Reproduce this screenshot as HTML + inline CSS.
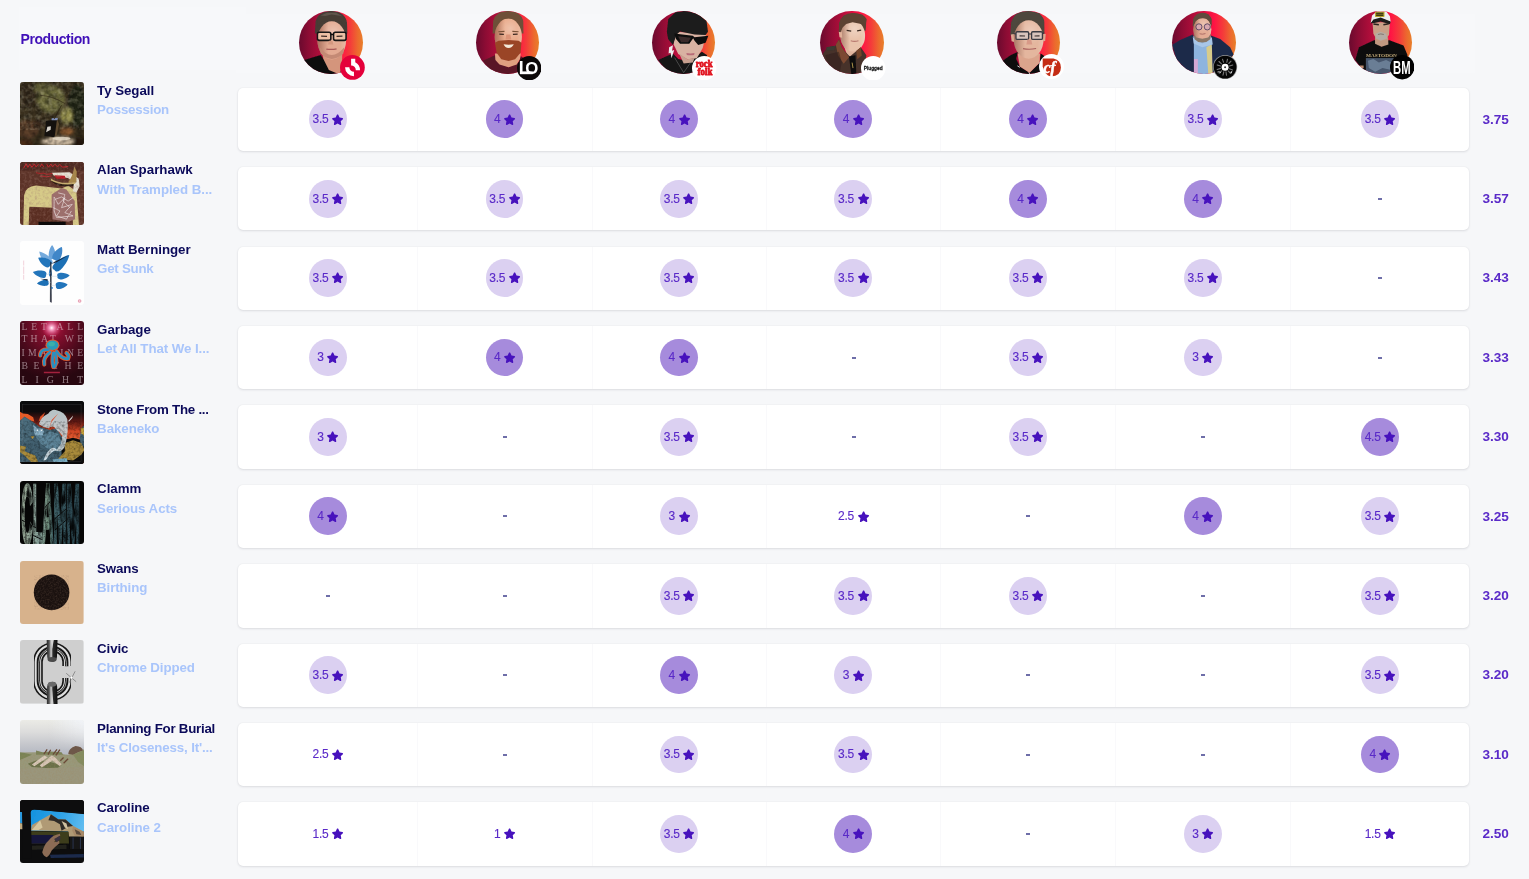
<!DOCTYPE html>
<html lang="en">
<head>
<meta charset="utf-8">
<title>Production ratings</title>
<style>
html,body{margin:0;padding:0}
body{width:1529px;height:879px;overflow:hidden;position:relative;background:#f6f7f9;font-family:"Liberation Sans",sans-serif;color:#0b0a5a}

.band{position:absolute;background:#f7f8fa}
.head{position:absolute;left:20.5px;top:29.5px;font-size:14px;line-height:19px;font-weight:700;color:#4010b8;letter-spacing:-0.45px}
.card{position:absolute;left:238.3px;width:1231px;height:63.4px;background:#fff;border-radius:5px;box-shadow:0 1px 2.5px rgba(25,30,45,.11),0 0 1.5px rgba(25,30,45,.07)}
.sep{position:absolute;top:0;bottom:0;width:1px;background:#f9f9fb}
.thumb{position:absolute;left:20.3px;width:63.6px;height:63.6px;border-radius:3px;overflow:hidden}
.thumb svg{display:block;width:100%;height:100%}
.artist{position:absolute;left:97.1px;font-size:13.3px;line-height:19px;font-weight:700;color:#0b0a5a;white-space:nowrap;letter-spacing:-0.05px}
.album{position:absolute;left:97.1px;font-size:13.3px;line-height:19px;font-weight:700;color:#a9c5fb;white-space:nowrap;letter-spacing:-0.2px}
.rt{position:absolute;width:37.8px;height:37.8px;border-radius:50%;display:flex;align-items:center;justify-content:center;font-size:12px;line-height:12px;color:#5a2ac8;white-space:nowrap;letter-spacing:-0.25px;-webkit-text-stroke:0.12px #5a2ac8}
.rt.hi{background:#a68bdc}
.rt.md{background:#dbd0f1}
.rt .st{width:13.2px;height:13.2px;margin-left:2.6px;margin-right:-1.2px;fill:#4712bd;display:block;position:relative;top:-0.1px}
.rt span{position:relative;top:-0.15px}
.dash{position:absolute;width:3.8px;height:1.6px;background:#4a4a94;opacity:.8}
.score{position:absolute;left:1469.6px;width:52px;text-align:center;font-size:13.6px;line-height:19px;font-weight:700;color:#5a2ac8;letter-spacing:-0.1px}
.av{position:absolute;width:63.6px;height:63.6px;border-radius:50%;overflow:hidden;background:linear-gradient(90deg,#6a0a2e 0%,#8c0c34 15%,#b80e3c 38%,#e81040 55%,#ff1444 66%,#f43c3a 80%,#ec6a2e 92%,#e8802a 100%)}
.av svg{display:block;width:100%;height:100%}
.bd{position:absolute;width:23px;height:23px}
.bd svg{display:block;width:100%;height:100%}
</style>
</head>
<body>
<div class="band" style="left:18.5px;top:7px;width:227.5px;height:62.5px"></div>
<div class="band" style="left:236px;top:13.5px;width:1239px;height:59px"></div>
<header>
<div class="head">Production</div>
<div class="av" style="left:299.4px;top:10.5px"><svg viewBox="0 0 64 64" preserveAspectRatio="none"><defs><filter id="a1b"><feGaussianBlur stdDeviation="5"/></filter><linearGradient id="a1s" x1="294" y1="0" x2="610" y2="0" gradientUnits="userSpaceOnUse"><stop offset="0" stop-color="#5a2418" stop-opacity=".42"/><stop offset=".38" stop-color="#5a2418" stop-opacity="0"/><stop offset=".8" stop-color="#fff" stop-opacity="0"/><stop offset="1" stop-color="#fff" stop-opacity=".18"/></linearGradient><radialGradient id="a1h" cx="475" cy="300" r="142" gradientUnits="userSpaceOnUse"><stop offset="0" stop-color="#fff" stop-opacity=".28"/><stop offset="1" stop-color="#fff" stop-opacity="0"/></radialGradient></defs><g transform="scale(.0913) translate(-91,-71)" filter="url(#a1b)"><path d="M140 615L330 555L360 600L540 620L560 800L100 800Z" fill="#0c0c10"/><path d="M345 520L570 520L560 700L540 770L420 720L360 600Z" fill="#d4957c"/><path d="M266 320L274 185Q300 74 450 70Q602 78 620 200L624 320Z" fill="#463c36"/><ellipse cx="452" cy="395" rx="158" ry="210" fill="#e3aa92"/><ellipse cx="452" cy="395" rx="158" ry="210" fill="url(#a1s)"/><ellipse cx="452" cy="395" rx="158" ry="210" fill="url(#a1h)"/><path d="M320 470Q450 640 590 470L580 540Q450 660 330 540Z" fill="#c48a74"/><path d="M300 250L330 195L400 172L500 170L570 195L602 250L612 170L540 90L450 72L350 90L290 170Z" fill="#463c36"/><path d="M330 120L400 90L500 90L570 130L520 120L450 110L380 125Z" fill="#5e544c"/><rect x="294" y="305" width="148" height="90" rx="20" fill="#ecc0a4" stroke="#121212" stroke-width="17"/><rect x="472" y="305" width="138" height="90" rx="20" fill="#ecc0a4" stroke="#121212" stroke-width="17"/><path d="M335 348L400 350M505 350L570 347" stroke="#3a2a26" stroke-width="13"/><path d="M440 330L472 330" stroke="#0e0e0e" stroke-width="16"/><path d="M392 490Q450 500 505 488" stroke="#a85a58" stroke-width="14" fill="none"/><path d="M420 400L410 440L470 440L460 400" fill="#d49880"/></g></svg>
</div>
<div class="bd" style="left:340.15px;top:55.35px;width:24.8px;height:24.8px"><svg viewBox="0 0 24.8 24.8"><circle cx="12.4" cy="12.4" r="12.4" fill="#e4003a"/><path d="M11.1 3.7H15.25V7.25A8.92 8.92 0 0 1 20 15.15H15.8A4.73 4.73 0 0 0 11.1 10.4Z" fill="#fff"/><path d="M5.050 12.25H9.35A4.600 4.600 0 0 0 13.950 16.850V21.150A8.900 8.900 0 0 1 5.050 12.250Z" fill="#fff"/></svg>
</div>
<div class="av" style="left:475.8px;top:10.5px"><svg viewBox="0 0 64 64" preserveAspectRatio="none"><defs><filter id="a2b"><feGaussianBlur stdDeviation="5"/></filter><linearGradient id="a2s" x1="297" y1="0" x2="597" y2="0" gradientUnits="userSpaceOnUse"><stop offset="0" stop-color="#5a2418" stop-opacity=".42"/><stop offset=".38" stop-color="#5a2418" stop-opacity="0"/><stop offset=".8" stop-color="#fff" stop-opacity="0"/><stop offset="1" stop-color="#fff" stop-opacity=".18"/></linearGradient><radialGradient id="a2h" cx="469" cy="265" r="135" gradientUnits="userSpaceOnUse"><stop offset="0" stop-color="#fff" stop-opacity=".28"/><stop offset="1" stop-color="#fff" stop-opacity="0"/></radialGradient></defs><g transform="scale(.0913) translate(-91,-71)" filter="url(#a2b)"><path d="M165 620L300 560L330 640L450 690L560 640L585 568L625 600L560 790L300 790Z" fill="#5a1828"/><path d="M300 540L585 540L575 600L540 660L450 690L350 660L305 610Z" fill="#e0a080"/><path d="M274 320L280 180Q310 72 450 70Q590 76 612 180L614 320Z" fill="#6e5038"/><ellipse cx="447" cy="355" rx="150" ry="200" fill="#e9aa8a"/><ellipse cx="447" cy="355" rx="150" ry="200" fill="url(#a2s)"/><ellipse cx="447" cy="355" rx="150" ry="200" fill="url(#a2h)"/><path d="M300 420L340 398L450 392L560 398L592 420L582 530L522 602L450 622L370 602L318 530Z" fill="#9a4428"/><path d="M395 438Q450 448 508 438Q490 478 450 478Q410 478 395 438Z" fill="#f4e8d8"/><path d="M300 250L320 200L370 165L450 152L540 168L585 215L600 260L606 170L540 90L450 72L350 90L290 170Z" fill="#6e5038"/><path d="M338 300L405 296M492 296L560 300" stroke="#7a5238" stroke-width="13"/><path d="M348 326L398 328M498 328L550 326" stroke="#3a2620" stroke-width="15"/><path d="M425 330L415 385L480 385L470 330" fill="#dc9478"/></g></svg>
</div>
<div class="bd" style="left:516.70px;top:55.55px;width:24.4px;height:24.4px"><svg viewBox="0 0 24.4 24.4"><circle cx="12.2" cy="12.2" r="12.2" fill="#0c0808"/><rect x="3.1" y="15.400" width="12.600" height="2.800" fill="#fff"/><text font-family="'Liberation Sans',sans-serif" font-weight="700" font-size="17.6" fill="#fff"><tspan x="1.75" y="18.2">L</tspan><tspan x="8.15" y="18.2" font-size="16.800">O</tspan></text></svg>
</div>
<div class="av" style="left:651.5px;top:10.5px"><svg viewBox="0 0 64 64" preserveAspectRatio="none"><defs><filter id="a3b"><feGaussianBlur stdDeviation="5"/></filter></defs><g transform="scale(.0913) translate(-91,-71)" filter="url(#a3b)"><path d="M160 612L320 540L380 600L480 622L590 560L640 520L700 560L560 790L300 790Z" fill="#141414"/><path d="M340 300L690 320L650 480L585 592L480 604L380 545L330 440Z" fill="#d9b2a2"/><path d="M390 540L480 604L560 590L540 640L440 650Z" fill="#c8a090"/><path d="M255 300L270 160L350 85L470 68L600 100L692 182L708 300L682 335L560 330L400 298L362 330L322 445L268 380Z" fill="#1c1c1c"/><path d="M335 318L540 345L560 360L712 345L682 422L600 447L560 400L545 372L502 432L400 432L358 382Z" fill="#0e0c0c"/><path d="M380 350L520 365L490 415L410 415Z" fill="#3a2a2a"/><path d="M470 535Q515 545 560 535L555 555Q515 565 475 555Z" fill="#b86c78"/><path d="M280 470L322 448L312 510L336 500L306 592L296 530L274 540Z" fill="#ececec"/><path d="M340 585L440 750L540 605" stroke="#8a8a8a" stroke-width="5" fill="none"/></g></svg>
</div>
<div class="bd" style="left:692.35px;top:55.65px;width:24.4px;height:24.4px"><svg viewBox="0 0 24.4 24.4"><circle cx="12.2" cy="12.2" r="12.2" fill="#fff"/><g font-family="'Liberation Serif',serif" font-weight="700" font-size="10" fill="#e0101c" stroke="#e0101c" stroke-width=".8" stroke-linejoin="round"><text x="3.7" y="11.2" textLength="16.8" lengthAdjust="spacingAndGlyphs">rock</text><text x="5.600" y="19.2" textLength="14.9" lengthAdjust="spacingAndGlyphs">folk</text></g></svg>
</div>
<div class="av" style="left:820.3px;top:10.5px"><svg viewBox="0 0 64 64" preserveAspectRatio="none"><defs><filter id="a4b"><feGaussianBlur stdDeviation="5"/></filter><linearGradient id="a4s" x1="316" y1="0" x2="588" y2="0" gradientUnits="userSpaceOnUse"><stop offset="0" stop-color="#5a2418" stop-opacity=".42"/><stop offset=".38" stop-color="#5a2418" stop-opacity="0"/><stop offset=".8" stop-color="#fff" stop-opacity="0"/><stop offset="1" stop-color="#fff" stop-opacity=".18"/></linearGradient><radialGradient id="a4h" cx="472" cy="267" r="122" gradientUnits="userSpaceOnUse"><stop offset="0" stop-color="#fff" stop-opacity=".28"/><stop offset="1" stop-color="#fff" stop-opacity="0"/></radialGradient></defs><g transform="scale(.0913) translate(-91,-71)" filter="url(#a4b)"><path d="M350 440L525 440L505 590L400 590Z" fill="#e0b49c"/><path d="M298 300L305 200Q330 95 450 93Q580 100 602 160L594 290Z" fill="#5c4232"/><ellipse cx="452" cy="345" rx="136" ry="172" fill="#e9c3ab"/><ellipse cx="452" cy="345" rx="136" ry="172" fill="url(#a4s)"/><ellipse cx="452" cy="345" rx="136" ry="172" fill="url(#a4h)"/><path d="M298 300L332 300L336 365L306 360Z" fill="#e0b098"/><path d="M316 305L340 252L380 214L450 196L560 216L590 265L604 160L560 113L450 93L350 128L302 200L298 300Z" fill="#5c4232"/><path d="M385 285L435 292M500 290L545 283" stroke="#3a2a22" stroke-width="14"/><path d="M430 400Q470 412 515 400" stroke="#b87a70" stroke-width="12" fill="none"/><path d="M120 548L170 470L262 455L300 382L332 482L420 572L480 522L540 470L602 560L560 790L300 790L150 640Z" fill="#46302a"/><path d="M265 442L300 385L332 472L412 582L352 652L290 562Z" fill="#7c4a30"/><path d="M490 512L540 470L552 562L502 602Z" fill="#74442c"/><path d="M410 572L482 560L492 790L440 790Z" fill="#0e0c0c"/><path d="M160 470L260 455L250 500L170 510Z" fill="#3a3a30"/><path d="M445 640L455 700" stroke="#b8a050" stroke-width="10"/><path d="M150 560L300 520L330 640L300 790L200 720Z" fill="#2e1e1a" opacity=".5"/></g></svg>
</div>
<div class="bd" style="left:861.35px;top:55.65px;width:24.5px;height:24.5px"><svg viewBox="0 0 24.5 24.5"><defs><filter id="b4f"><feGaussianBlur stdDeviation=".25"/></filter></defs><circle cx="12.25" cy="12.25" r="12.25" fill="#fff"/><text x="2.800" y="14" textLength="18.8" lengthAdjust="spacingAndGlyphs" font-family="'Liberation Sans',sans-serif" font-weight="700" font-size="6.2" fill="#1a1a1a" stroke="#1a1a1a" stroke-width=".3" filter="url(#b4f)">Plugged</text></svg>
</div>
<div class="av" style="left:996.5px;top:10.5px"><svg viewBox="0 0 64 64" preserveAspectRatio="none"><defs><filter id="a5b"><feGaussianBlur stdDeviation="5"/></filter><linearGradient id="a5s" x1="276" y1="0" x2="604" y2="0" gradientUnits="userSpaceOnUse"><stop offset="0" stop-color="#5a2418" stop-opacity=".42"/><stop offset=".38" stop-color="#5a2418" stop-opacity="0"/><stop offset=".8" stop-color="#fff" stop-opacity="0"/><stop offset="1" stop-color="#fff" stop-opacity=".18"/></linearGradient><radialGradient id="a5h" cx="464" cy="289" r="147" gradientUnits="userSpaceOnUse"><stop offset="0" stop-color="#fff" stop-opacity=".28"/><stop offset="1" stop-color="#fff" stop-opacity="0"/></radialGradient></defs><g transform="scale(.0913) translate(-91,-71)" filter="url(#a5b)"><path d="M150 622L240 560L322 520L302 600L342 682L450 752L560 642L572 540L622 572L600 790L300 790Z" fill="#0e0e10"/><path d="M318 540L565 540L560 642L450 752L342 682Z" fill="#dba48c"/><path d="M238 340L246 200Q280 70 430 70Q590 78 612 180L614 320Z" fill="#4e463c"/><ellipse cx="440" cy="385" rx="164" ry="212" fill="#e4b69e"/><ellipse cx="440" cy="385" rx="164" ry="212" fill="url(#a5s)"/><ellipse cx="440" cy="385" rx="164" ry="212" fill="url(#a5h)"/><path d="M244 330L276 325L280 412L252 405Z" fill="#dca890"/><path d="M600 322L628 325L622 402L598 405Z" fill="#dca890"/><path d="M280 290L300 225L340 180L430 162L530 178L575 230L596 285L610 180L560 95L430 72L300 108L250 200Z" fill="#4e463c"/><rect x="300" y="300" width="140" height="84" rx="14" fill="#d8c4bc" stroke="#3a3a42" stroke-width="15"/><rect x="472" y="300" width="120" height="84" rx="14" fill="#d8c4bc" stroke="#3a3a42" stroke-width="15"/><path d="M340 345L400 347M505 347L560 345" stroke="#3a3030" stroke-width="12"/><path d="M440 325L472 325M276 320L300 325M592 320L612 315" stroke="#3a3a42" stroke-width="12"/><path d="M378 486Q450 500 522 484" stroke="#a85e5c" stroke-width="12" fill="none"/><path d="M425 385L415 440L480 440L468 385" fill="#d89a88"/><path d="M316 676L342 692M440 750L470 785" stroke="#e8e8e8" stroke-width="10"/></g></svg>
</div>
<div class="bd" style="left:1039.20px;top:53.70px;width:25.0px;height:25.0px"><svg viewBox="0 0 25 25"><circle cx="12.5" cy="12.5" r="12.5" fill="#fff"/><path d="M3.7 4.550H14.5Q21.900 6.200 21.900 13.500Q21.900 22.400 12 22.400Q5.500 21.500 3.700 12.500Z" fill="#c42c14"/><text x="4.6" y="18.6" font-family="'Liberation Serif',serif" font-style="italic" font-weight="700" font-size="16" fill="#fff" stroke="#fff" stroke-width=".45" letter-spacing="-.4">cf</text></svg>
</div>
<div class="av" style="left:1172.4px;top:10.5px"><svg viewBox="0 0 64 64" preserveAspectRatio="none"><defs><filter id="a6b"><feGaussianBlur stdDeviation="5"/></filter><linearGradient id="a6s" x1="325" y1="0" x2="525" y2="0" gradientUnits="userSpaceOnUse"><stop offset="0" stop-color="#5a2418" stop-opacity=".42"/><stop offset=".38" stop-color="#5a2418" stop-opacity="0"/><stop offset=".8" stop-color="#fff" stop-opacity="0"/><stop offset="1" stop-color="#fff" stop-opacity=".18"/></linearGradient><radialGradient id="a6h" cx="440" cy="216" r="90" gradientUnits="userSpaceOnUse"><stop offset="0" stop-color="#fff" stop-opacity=".28"/><stop offset="1" stop-color="#fff" stop-opacity="0"/></radialGradient></defs><g transform="scale(.0913) translate(-91,-71)" filter="url(#a6b)"><path d="M318 350L532 350L545 790L328 790Z" fill="#8eb4de"/><path d="M470 470L528 438L545 770L492 780Z" fill="#d8cc8a"/><path d="M328 600L376 600L376 790L328 780Z" fill="#d4a8d4"/><path d="M95 442L180 390L322 330L332 402L332 770L250 722L140 602Z" fill="#1f2b4a"/><path d="M520 340L622 380L732 470L772 552L700 622L560 742L540 770L530 420Z" fill="#1f2b4a"/><path d="M320 360L425 430L530 360L540 440L425 470L330 430Z" fill="#a8c6e8"/><path d="M318 240L325 160Q350 92 430 90Q505 96 527 160L529 232Z" fill="#5e4c3c"/><ellipse cx="425" cy="275" rx="100" ry="130" fill="#e4ac94"/><ellipse cx="425" cy="275" rx="100" ry="130" fill="url(#a6s)"/><ellipse cx="425" cy="275" rx="100" ry="130" fill="url(#a6h)"/><path d="M328 320L360 362L425 378L490 362L522 320L512 382L470 412L425 418L380 412L340 382Z" fill="#8a7868"/><path d="M336 216L350 180L390 156L430 150L475 156L505 180L520 215L525 160L490 108L430 92L370 108L326 160Z" fill="#5e4c3c"/><circle cx="388" cy="246" r="34" fill="#d8a8b0" stroke="#4a3858" stroke-width="9"/><circle cx="480" cy="246" r="34" fill="#d8a8b0" stroke="#4a3858" stroke-width="9"/><path d="M395 322Q425 332 460 320" stroke="#a0605c" stroke-width="9" fill="none"/></g></svg>
</div>
<div class="bd" style="left:1213.45px;top:55.10px;width:24.2px;height:24.2px"><svg viewBox="0 0 24.2 24.2"><circle cx="12.1" cy="12.1" r="12.1" fill="#9a9a9a"/><circle cx="12.1" cy="12.1" r="11.400" fill="#050505"/><g stroke="#8c8c8c" stroke-width="1.1" fill="none" stroke-linecap="round" opacity=".85"><path d="M6 6.500L8.500 8.800M9.500 4.200L10.500 7.200M14.500 4.200L13.800 7.300M18 6.200L15.800 8.500M19.800 10L16.500 11M19.600 15L16.400 13.800M17.500 18.500L15.200 16M13.500 20.300L13 16.800M10 20.200L10.800 16.800M6.200 18.200L8.600 15.800M4.200 14.500L7.600 13.400M4.200 10L7.600 11"/></g><path d="M4.500 17Q6.500 16 8 18" stroke="#c8c8c8" stroke-width=".9" fill="none"/><path d="M17 17.300L19.300 15.800L18.800 18.500Z" fill="#d0d0d0"/><circle cx="12.100" cy="12.200" r="3.500" fill="#fff"/><circle cx="12.1" cy="12.2" r="1" fill="#333"/></svg>
</div>
<div class="av" style="left:1348.6px;top:10.5px"><svg viewBox="0 0 64 64" preserveAspectRatio="none"><defs><filter id="a7b"><feGaussianBlur stdDeviation="5"/></filter></defs><g transform="scale(.0913) translate(-91,-71)" filter="url(#a7b)"><path d="M160 612L200 470L372 390L450 462L530 390L692 450L737 560L560 790L300 790Z" fill="#111"/><path d="M378 360L522 360L525 440L450 466L378 432Z" fill="#c09880"/><path d="M350 195L542 195L532 332L502 382L440 398L390 378L360 322Z" fill="#c8a088"/><path d="M385 322L440 300L500 322L512 372L440 398L385 372Z" fill="#b4aca4"/><path d="M410 330Q440 318 475 330" stroke="#7a6a60" stroke-width="9" fill="none"/><path d="M360 215L420 222M470 222L530 212" stroke="#2a2220" stroke-width="16"/><path d="M330 202L345 120L400 75L500 75L542 130L550 192L440 150L360 182Z" fill="#eeeeee"/><path d="M330 207L360 165L440 144L550 186L542 217L440 186L370 202Z" fill="#1c1c1c"/><rect x="378" y="80" width="104" height="56" rx="6" fill="#b4a42c"/><path d="M390 96H470M390 116H470" stroke="#1a1a10" stroke-width="12"/><rect x="278" y="590" width="325" height="175" fill="#46566c"/><path d="M300 620L360 600L420 640L500 610L580 650L560 720L460 700L380 740L310 700Z" fill="#8aa0b8" opacity=".55"/><rect x="212" y="672" width="40" height="30" fill="#c09070"/></g><g transform="scale(.0913) translate(-91,-71)"><text x="278" y="576" font-family="'Liberation Serif',serif" font-weight="700" font-size="46" fill="#c2aa78" textLength="340" lengthAdjust="spacingAndGlyphs">MASTODON</text></g></svg>
</div>
<div class="bd" style="left:1389.65px;top:55.45px;width:24.4px;height:24.4px"><svg viewBox="0 0 24.4 24.4"><circle cx="12.2" cy="12.2" r="12.2" fill="#020202"/><text transform="translate(3.1 18.55) scale(.595 1)" font-family="'Liberation Sans',sans-serif" font-weight="700" font-size="19" fill="#fff">BM</text></svg>
</div>
</header>
<main>
<section class="row">
<div class="thumb" role="img" aria-label="Ty Segall cover" style="top:81.9px"><svg viewBox="0 0 64 64" preserveAspectRatio="none"><defs><filter id="t1b" x="-20%" y="-20%" width="140%" height="140%"><feGaussianBlur stdDeviation="22"/></filter><filter id="t1n" x="0" y="0" width="100%" height="100%"><feTurbulence type="fractalNoise" baseFrequency="0.016" numOctaves="2" seed="4"/><feColorMatrix type="matrix" values="0 0 0 0 0  0 0 0 0 0  0 0 0 0 0  1.6 0 0 0 -0.55"/></filter><filter id="t1m" x="0" y="0" width="100%" height="100%"><feTurbulence type="fractalNoise" baseFrequency="0.02" numOctaves="2" seed="11"/><feColorMatrix type="matrix" values="0 0 0 0 1  0 0 0 0 .95  0 0 0 0 .7  0 1.5 0 0 -0.6"/></filter></defs><g transform="scale(.08278) translate(-55,-48)"><rect x="40" y="30" width="810" height="810" fill="#3a301e"/><g filter="url(#t1b)"><ellipse cx="430" cy="260" rx="170" ry="170" fill="#6c6a3a"/><ellipse cx="330" cy="120" rx="130" ry="60" fill="#5e5c34"/><ellipse cx="750" cy="340" rx="110" ry="260" fill="#232818"/><ellipse cx="140" cy="210" rx="100" ry="140" fill="#36291a"/><ellipse cx="620" cy="460" rx="80" ry="100" fill="#8f8a48"/><ellipse cx="150" cy="620" rx="140" ry="110" fill="#5d3f2a"/><ellipse cx="520" cy="770" rx="210" ry="55" fill="#d2bfa6"/><ellipse cx="620" cy="650" rx="90" ry="50" fill="#8a5a30"/><ellipse cx="775" cy="780" rx="70" ry="60" fill="#22160e"/><ellipse cx="120" cy="790" rx="90" ry="45" fill="#4a2a18"/><ellipse cx="280" cy="560" rx="70" ry="60" fill="#3b2a1c"/></g><rect x="40" y="30" width="810" height="810" filter="url(#t1n)" fill="#000" opacity=".55"/><rect x="40" y="30" width="810" height="600" filter="url(#t1m)" opacity=".35"/><path d="M372 522L505 497L502 640L470 720L352 700Z" fill="#14110e"/><path d="M440 490L515 486L512 512L438 514Z" fill="#7f90b8"/><path d="M388 592L430 585L428 628L372 660Z" fill="#d8d4cc"/><path d="M505 500L530 560L500 700L478 700Z" fill="#5e4a30"/><path d="M560 330L470 500" stroke="#2a2012" stroke-width="9"/><path d="M300 210Q460 220 600 310" stroke="#2a2012" stroke-width="7" fill="none"/><ellipse cx="560" cy="735" rx="110" ry="22" fill="#e6dccb" opacity=".8"/></g></svg>
</div>
<div class="artist" style="top:80.5px;letter-spacing:-0.05px">Ty Segall</div>
<div class="album" style="top:99.7px;letter-spacing:-0.20px">Possession</div>
<div class="card" style="top:87.7px"><i class="sep" style="left:178.5px"></i><i class="sep" style="left:353.7px"></i><i class="sep" style="left:527.4px"></i><i class="sep" style="left:702.2px"></i><i class="sep" style="left:876.4px"></i><i class="sep" style="left:1052.1px"></i></div>
<div class="rt md" style="left:308.9px;top:100.4px"><span>3.5</span><svg class="st" viewBox="0 0 24 24"><path d="M12 2.6c.5 0 1 .3 1.200 .8l2.300 4.900 5.300 .7c1.100 .2 1.600 1.500 .8 2.300l-3.900 3.700 1 5.300c.2 1.100-1 2-2 1.400L12 19.100l-4.700 2.600c-1 .6-2.200-.3-2-1.400l1-5.300-3.900-3.700c-.8-.8-.3-2.100 .8-2.300l5.300-.7 2.300-4.900c.2-.5 .700-.8 1.200-.8z"/></svg></div>
<div class="rt hi" style="left:485.7px;top:100.4px"><span>4</span><svg class="st" viewBox="0 0 24 24"><path d="M12 2.6c.5 0 1 .3 1.200 .8l2.300 4.900 5.300 .7c1.100 .2 1.600 1.500 .8 2.300l-3.900 3.700 1 5.300c.2 1.100-1 2-2 1.400L12 19.100l-4.700 2.600c-1 .6-2.200-.3-2-1.400l1-5.300-3.900-3.700c-.8-.8-.3-2.100 .8-2.300l5.300-.7 2.300-4.900c.2-.5 .700-.8 1.200-.8z"/></svg></div>
<div class="rt hi" style="left:660.2px;top:100.4px"><span>4</span><svg class="st" viewBox="0 0 24 24"><path d="M12 2.6c.5 0 1 .3 1.200 .8l2.300 4.900 5.300 .7c1.100 .2 1.600 1.500 .8 2.300l-3.900 3.700 1 5.300c.2 1.100-1 2-2 1.400L12 19.100l-4.700 2.600c-1 .6-2.200-.3-2-1.400l1-5.300-3.900-3.700c-.8-.8-.3-2.100 .8-2.300l5.300-.7 2.300-4.900c.2-.5 .700-.8 1.200-.8z"/></svg></div>
<div class="rt hi" style="left:834.4px;top:100.4px"><span>4</span><svg class="st" viewBox="0 0 24 24"><path d="M12 2.6c.5 0 1 .3 1.200 .8l2.300 4.900 5.300 .7c1.100 .2 1.600 1.500 .8 2.300l-3.900 3.700 1 5.300c.2 1.100-1 2-2 1.400L12 19.100l-4.700 2.600c-1 .6-2.200-.3-2-1.400l1-5.300-3.900-3.700c-.8-.8-.3-2.100 .8-2.300l5.300-.7 2.300-4.900c.2-.5 .700-.8 1.200-.8z"/></svg></div>
<div class="rt hi" style="left:1008.9px;top:100.4px"><span>4</span><svg class="st" viewBox="0 0 24 24"><path d="M12 2.6c.5 0 1 .3 1.200 .8l2.300 4.900 5.300 .7c1.100 .2 1.600 1.500 .8 2.300l-3.900 3.700 1 5.300c.2 1.100-1 2-2 1.400L12 19.100l-4.700 2.600c-1 .6-2.200-.3-2-1.400l1-5.300-3.900-3.700c-.8-.8-.3-2.100 .8-2.300l5.300-.7 2.300-4.900c.2-.5 .700-.8 1.200-.8z"/></svg></div>
<div class="rt md" style="left:1183.9px;top:100.4px"><span>3.5</span><svg class="st" viewBox="0 0 24 24"><path d="M12 2.6c.5 0 1 .3 1.200 .8l2.300 4.900 5.300 .7c1.100 .2 1.600 1.500 .8 2.300l-3.900 3.700 1 5.300c.2 1.100-1 2-2 1.400L12 19.100l-4.700 2.600c-1 .6-2.200-.3-2-1.400l1-5.300-3.900-3.700c-.8-.8-.3-2.100 .8-2.300l5.300-.7 2.300-4.900c.2-.5 .700-.8 1.200-.8z"/></svg></div>
<div class="rt md" style="left:1361.0px;top:100.4px"><span>3.5</span><svg class="st" viewBox="0 0 24 24"><path d="M12 2.6c.5 0 1 .3 1.200 .8l2.300 4.900 5.300 .7c1.100 .2 1.600 1.500 .8 2.300l-3.900 3.700 1 5.300c.2 1.100-1 2-2 1.400L12 19.100l-4.700 2.600c-1 .6-2.200-.3-2-1.400l1-5.300-3.900-3.700c-.8-.8-.3-2.100 .8-2.300l5.300-.7 2.300-4.900c.2-.5 .700-.8 1.200-.8z"/></svg></div>
<div class="score" style="top:109.5px">3.75</div>
</section>
<section class="row">
<div class="thumb" role="img" aria-label="Alan Sparhawk cover" style="top:161.7px"><svg viewBox="0 0 64 64" preserveAspectRatio="none"><defs><filter id="t2b"><feGaussianBlur stdDeviation="5"/></filter><filter id="t2n" x="0" y="0" width="100%" height="100%"><feTurbulence type="fractalNoise" baseFrequency="0.03" numOctaves="2" seed="8"/><feColorMatrix type="matrix" values="0 0 0 0 .36  0 0 0 0 .2  0 0 0 0 .16  1.7 0 0 0 -0.72"/></filter></defs><g transform="scale(.08278) translate(-55,-45)"><rect x="40" y="30" width="810" height="810" fill="#5c3328"/><rect x="40" y="30" width="810" height="120" fill="#4e2a22"/><g filter="url(#t2b)"><path d="M95 815L105 450Q120 340 250 330L560 368L640 330L740 400L772 815L700 815L690 620L640 600L450 600L170 590L160 815Z" fill="#d6ca88"/><path d="M440 440L560 360L620 380L720 520L725 740L640 770L440 740Z" fill="#9c6e6c"/><path d="M470 470L520 560L600 480L560 600L690 560L600 660L700 700L500 720L470 640ZM480 500L560 470L640 520L700 480M460 600L540 640L500 700L620 740L680 640M520 420L600 440L580 520L660 600" fill="none" stroke="#efe6e6" stroke-width="11" opacity=".75"/><path d="M170 600L450 605L450 815L170 815Z" fill="#5a2f24"/><path d="M420 250Q520 330 650 310L760 290L770 330Q600 350 520 330Q440 300 420 250Z" fill="#2c1c12"/><path d="M440 175L660 170L770 250L780 340L740 420L700 400L710 300L640 240L470 215Z" fill="#e6e0d2"/><path d="M470 205L600 212L610 250L500 250Z" fill="#b81820"/><path d="M715 100L745 160L740 290Q690 320 640 290Q700 220 715 100Z" fill="#a88848"/><path d="M430 245Q540 320 720 290L730 310Q560 340 430 270Z" fill="#c8b070"/></g><path d="M100 120L130 65L150 110L175 70L200 108L230 68L250 105L280 70M300 105L320 70L345 105M380 70L400 108L430 70L450 105L480 72L510 105L540 75L570 108L640 100" stroke="#c8202a" stroke-width="12" fill="none" stroke-linejoin="round"/><path d="M250 175L300 185L340 180L380 195L450 185M300 215L380 225L440 215" stroke="#c8202a" stroke-width="9" fill="none"/><rect x="40" y="30" width="810" height="810" filter="url(#t2n)" opacity=".5"/><rect x="280" y="772" width="330" height="50" fill="#0c0a0a"/></g></svg>
</div>
<div class="artist" style="top:160.3px;letter-spacing:0.02px">Alan Sparhawk</div>
<div class="album" style="top:179.5px;letter-spacing:-0.04px">With Trampled B...</div>
<div class="card" style="top:167.1px"><i class="sep" style="left:178.5px"></i><i class="sep" style="left:353.7px"></i><i class="sep" style="left:527.4px"></i><i class="sep" style="left:702.2px"></i><i class="sep" style="left:876.4px"></i><i class="sep" style="left:1052.1px"></i></div>
<div class="rt md" style="left:308.9px;top:179.8px"><span>3.5</span><svg class="st" viewBox="0 0 24 24"><path d="M12 2.6c.5 0 1 .3 1.200 .8l2.300 4.900 5.300 .7c1.100 .2 1.600 1.500 .8 2.300l-3.900 3.700 1 5.300c.2 1.100-1 2-2 1.400L12 19.100l-4.700 2.600c-1 .6-2.200-.3-2-1.400l1-5.300-3.900-3.700c-.8-.8-.3-2.100 .8-2.300l5.300-.7 2.300-4.900c.2-.5 .700-.8 1.200-.8z"/></svg></div>
<div class="rt md" style="left:485.7px;top:179.8px"><span>3.5</span><svg class="st" viewBox="0 0 24 24"><path d="M12 2.6c.5 0 1 .3 1.200 .8l2.300 4.900 5.300 .7c1.100 .2 1.600 1.500 .8 2.300l-3.900 3.700 1 5.300c.2 1.100-1 2-2 1.400L12 19.100l-4.700 2.600c-1 .6-2.200-.3-2-1.400l1-5.300-3.900-3.700c-.8-.8-.3-2.100 .8-2.300l5.300-.7 2.300-4.900c.2-.5 .700-.8 1.200-.8z"/></svg></div>
<div class="rt md" style="left:660.2px;top:179.8px"><span>3.5</span><svg class="st" viewBox="0 0 24 24"><path d="M12 2.6c.5 0 1 .3 1.200 .8l2.300 4.900 5.300 .7c1.100 .2 1.600 1.500 .8 2.300l-3.900 3.700 1 5.300c.2 1.100-1 2-2 1.400L12 19.100l-4.700 2.600c-1 .6-2.200-.3-2-1.400l1-5.300-3.900-3.700c-.8-.8-.3-2.100 .8-2.300l5.300-.7 2.300-4.900c.2-.5 .700-.8 1.200-.8z"/></svg></div>
<div class="rt md" style="left:834.4px;top:179.8px"><span>3.5</span><svg class="st" viewBox="0 0 24 24"><path d="M12 2.6c.5 0 1 .3 1.200 .8l2.300 4.900 5.300 .7c1.100 .2 1.600 1.500 .8 2.300l-3.900 3.700 1 5.300c.2 1.100-1 2-2 1.400L12 19.100l-4.700 2.600c-1 .6-2.200-.3-2-1.400l1-5.300-3.900-3.700c-.8-.8-.3-2.100 .8-2.300l5.300-.7 2.300-4.900c.2-.5 .700-.8 1.200-.8z"/></svg></div>
<div class="rt hi" style="left:1008.9px;top:179.8px"><span>4</span><svg class="st" viewBox="0 0 24 24"><path d="M12 2.6c.5 0 1 .3 1.200 .8l2.300 4.900 5.300 .7c1.100 .2 1.600 1.500 .8 2.300l-3.900 3.700 1 5.300c.2 1.100-1 2-2 1.400L12 19.100l-4.700 2.600c-1 .6-2.200-.3-2-1.400l1-5.300-3.900-3.700c-.8-.8-.3-2.100 .8-2.300l5.300-.7 2.300-4.900c.2-.5 .700-.8 1.200-.8z"/></svg></div>
<div class="rt hi" style="left:1183.9px;top:179.8px"><span>4</span><svg class="st" viewBox="0 0 24 24"><path d="M12 2.6c.5 0 1 .3 1.200 .8l2.300 4.900 5.300 .7c1.100 .2 1.600 1.500 .8 2.300l-3.900 3.700 1 5.300c.2 1.100-1 2-2 1.400L12 19.100l-4.700 2.600c-1 .6-2.200-.3-2-1.400l1-5.300-3.900-3.700c-.8-.8-.3-2.100 .8-2.300l5.300-.7 2.300-4.900c.2-.5 .700-.8 1.200-.8z"/></svg></div>
<div class="dash" style="left:1378px;top:198px"></div>
<div class="score" style="top:188.9px">3.57</div>
</section>
<section class="row">
<div class="thumb" role="img" aria-label="Matt Berninger cover" style="top:241.4px"><svg viewBox="0 0 64 64" preserveAspectRatio="none"><defs><filter id="t3b"><feGaussianBlur stdDeviation="3.5"/></filter></defs><g transform="scale(.08278) translate(-55,-42)"><rect x="40" y="30" width="810" height="810" fill="#fefefe"/><g filter="url(#t3b)"><path d="M445 262C512 282 488 140 445 92C402 140 378 282 445 262Z" fill="#6aa3da"/><path d="M478 272C539 330 585 184 564 116C495 135 397 252 478 272Z" fill="#3f86c8"/><path d="M432 325C505 293 365 181 290 170C295 246 393 395 432 325Z" fill="#74aadc"/><path d="M425 335C484 276 344 227 276 246C292 315 401 415 425 335Z" fill="#2474bb"/><path d="M472 392C511 475 641 300 654 211C565 223 389 352 472 392Z" fill="#1f6fb5"/><path d="M372 458C407 394 266 388 211 420C246 474 375 531 372 458Z" fill="#2474bb"/><path d="M510 472C497 538 621 504 659 460C614 423 487 409 510 472Z" fill="#2474bb"/><path d="M402 547C414 485 298 517 261 558C303 593 424 606 402 547Z" fill="#1f6fb5"/><path d="M492 588C483 657 600 617 634 570C589 533 466 523 492 588Z" fill="#2474bb"/><path d="M426 472C456 483 442 396 422 368C404 398 397 486 426 472Z" fill="#3f86c8"/><path d="M433 300L436 788L424 780L427 300Z" fill="#1a2230" stroke="#1a2230" stroke-width="7"/><path d="M436 322L480 292L648 214L500 300Z" fill="#15263a"/><path d="M300 500L392 508L388 524Z" fill="#15263a"/><path d="M430 430L372 458M432 470L510 472M430 545L402 547M432 580L492 588" stroke="#b8c8d8" stroke-width="5"/><circle cx="443" cy="612" r="12" fill="#1f6fb5"/></g><path d="M100 280L100 520" stroke="#eab0c0" stroke-width="7" stroke-dasharray="60 12 90 10"/><circle cx="780" cy="772" r="22" fill="#e8a0b4"/><circle cx="780" cy="772" r="9" fill="#f6dce4"/></g></svg></div>
<div class="artist" style="top:240.0px;letter-spacing:-0.02px">Matt Berninger</div>
<div class="album" style="top:259.2px;letter-spacing:-0.26px">Get Sunk</div>
<div class="card" style="top:246.5px"><i class="sep" style="left:178.5px"></i><i class="sep" style="left:353.7px"></i><i class="sep" style="left:527.4px"></i><i class="sep" style="left:702.2px"></i><i class="sep" style="left:876.4px"></i><i class="sep" style="left:1052.1px"></i></div>
<div class="rt md" style="left:308.9px;top:259.2px"><span>3.5</span><svg class="st" viewBox="0 0 24 24"><path d="M12 2.6c.5 0 1 .3 1.200 .8l2.300 4.900 5.300 .7c1.100 .2 1.600 1.500 .8 2.300l-3.900 3.700 1 5.300c.2 1.100-1 2-2 1.400L12 19.100l-4.700 2.600c-1 .6-2.200-.3-2-1.400l1-5.300-3.900-3.700c-.8-.8-.3-2.100 .8-2.300l5.300-.7 2.300-4.900c.2-.5 .700-.8 1.200-.8z"/></svg></div>
<div class="rt md" style="left:485.7px;top:259.2px"><span>3.5</span><svg class="st" viewBox="0 0 24 24"><path d="M12 2.6c.5 0 1 .3 1.200 .8l2.300 4.900 5.300 .7c1.100 .2 1.600 1.500 .8 2.300l-3.900 3.700 1 5.300c.2 1.100-1 2-2 1.400L12 19.100l-4.700 2.600c-1 .6-2.200-.3-2-1.400l1-5.300-3.900-3.700c-.8-.8-.3-2.100 .8-2.300l5.300-.7 2.300-4.900c.2-.5 .700-.8 1.200-.8z"/></svg></div>
<div class="rt md" style="left:660.2px;top:259.2px"><span>3.5</span><svg class="st" viewBox="0 0 24 24"><path d="M12 2.6c.5 0 1 .3 1.200 .8l2.300 4.900 5.300 .7c1.100 .2 1.600 1.500 .8 2.300l-3.900 3.700 1 5.300c.2 1.100-1 2-2 1.400L12 19.100l-4.700 2.600c-1 .6-2.200-.3-2-1.400l1-5.300-3.900-3.700c-.8-.8-.3-2.100 .8-2.300l5.300-.7 2.300-4.900c.2-.5 .700-.8 1.200-.8z"/></svg></div>
<div class="rt md" style="left:834.4px;top:259.2px"><span>3.5</span><svg class="st" viewBox="0 0 24 24"><path d="M12 2.6c.5 0 1 .3 1.200 .8l2.300 4.900 5.300 .7c1.100 .2 1.600 1.500 .8 2.300l-3.900 3.700 1 5.300c.2 1.100-1 2-2 1.400L12 19.100l-4.700 2.600c-1 .6-2.200-.3-2-1.400l1-5.300-3.900-3.700c-.8-.8-.3-2.100 .8-2.300l5.300-.7 2.300-4.900c.2-.5 .700-.8 1.200-.8z"/></svg></div>
<div class="rt md" style="left:1008.9px;top:259.2px"><span>3.5</span><svg class="st" viewBox="0 0 24 24"><path d="M12 2.6c.5 0 1 .3 1.200 .8l2.300 4.900 5.300 .7c1.100 .2 1.600 1.500 .8 2.300l-3.900 3.700 1 5.300c.2 1.100-1 2-2 1.400L12 19.100l-4.700 2.600c-1 .6-2.200-.3-2-1.400l1-5.300-3.900-3.700c-.8-.8-.3-2.100 .8-2.300l5.300-.7 2.300-4.900c.2-.5 .700-.8 1.200-.8z"/></svg></div>
<div class="rt md" style="left:1183.9px;top:259.2px"><span>3.5</span><svg class="st" viewBox="0 0 24 24"><path d="M12 2.6c.5 0 1 .3 1.200 .8l2.300 4.900 5.300 .7c1.100 .2 1.600 1.500 .8 2.300l-3.900 3.700 1 5.300c.2 1.100-1 2-2 1.400L12 19.100l-4.700 2.600c-1 .6-2.200-.3-2-1.400l1-5.300-3.900-3.700c-.8-.8-.3-2.100 .8-2.300l5.300-.7 2.300-4.900c.2-.5 .700-.8 1.200-.8z"/></svg></div>
<div class="dash" style="left:1378px;top:277px"></div>
<div class="score" style="top:268.3px">3.43</div>
</section>
<section class="row">
<div class="thumb" role="img" aria-label="Garbage cover" style="top:321.2px"><svg viewBox="0 0 64 64" preserveAspectRatio="none"><defs><radialGradient id="t4g" cx="440" cy="140" r="620" gradientUnits="userSpaceOnUse"><stop offset="0" stop-color="#b81644"/><stop offset=".25" stop-color="#800e2c"/><stop offset=".6" stop-color="#4c0a1c"/><stop offset="1" stop-color="#280710"/></radialGradient><radialGradient id="t4l" cx="440" cy="135" r="120" gradientUnits="userSpaceOnUse"><stop offset="0" stop-color="#fff"/><stop offset=".2" stop-color="#ffb8d8" stop-opacity=".9"/><stop offset="1" stop-color="#e03070" stop-opacity="0"/></radialGradient><filter id="t4b"><feGaussianBlur stdDeviation="4"/></filter></defs><g transform="scale(.08278) translate(-55,-51)"><rect x="40" y="30" width="810" height="820" fill="url(#t4g)"/><circle cx="440" cy="135" r="120" fill="url(#t4l)"/><g font-family="'Liberation Serif',serif" font-size="118" fill="#e6d6dc" opacity=".55" filter="url(#t4b)"><text x="72" y="158" textLength="750" lengthAdjust="spacing">LET ALL</text><text x="72" y="312" textLength="750" lengthAdjust="spacing">THAT WE</text><text x="72" y="472" textLength="750" lengthAdjust="spacing">IMAGINE</text><text x="72" y="638" textLength="750" lengthAdjust="spacing">BE THE</text><text x="72" y="800" textLength="750" lengthAdjust="spacing">LIGHT</text></g><g filter="url(#t4b)" fill="none" stroke-linecap="round"><g stroke="#e85a28" stroke-width="50"><path d="M400 400Q300 390 300 470"/><path d="M420 430Q330 500 350 580"/><path d="M460 440Q440 540 460 610"/><path d="M500 420Q560 520 640 510Q660 470 620 440"/><path d="M480 440Q520 560 470 610"/></g><ellipse cx="450" cy="345" rx="85" ry="70" fill="#e85a28" stroke="none"/><g stroke="#2a90c0" stroke-width="32"><path d="M400 400Q300 390 300 470"/><path d="M420 430Q330 500 350 580"/><path d="M460 440Q440 540 460 610"/><path d="M500 420Q560 520 640 510Q660 470 620 440"/><path d="M480 440Q520 560 470 610"/></g><ellipse cx="450" cy="345" rx="72" ry="58" fill="#2a9ab8" stroke="none"/><ellipse cx="440" cy="330" rx="40" ry="28" fill="#3ab0a8" stroke="none"/></g><rect x="345" y="668" width="195" height="18" fill="#c02848" opacity=".8"/></g></svg>
</div>
<div class="artist" style="top:319.8px;letter-spacing:-0.04px">Garbage</div>
<div class="album" style="top:339.0px;letter-spacing:-0.07px">Let All That We I...</div>
<div class="card" style="top:325.9px"><i class="sep" style="left:178.5px"></i><i class="sep" style="left:353.7px"></i><i class="sep" style="left:527.4px"></i><i class="sep" style="left:702.2px"></i><i class="sep" style="left:876.4px"></i><i class="sep" style="left:1052.1px"></i></div>
<div class="rt md" style="left:308.9px;top:338.6px"><span>3</span><svg class="st" viewBox="0 0 24 24"><path d="M12 2.6c.5 0 1 .3 1.200 .8l2.300 4.900 5.300 .7c1.100 .2 1.600 1.500 .8 2.300l-3.900 3.700 1 5.300c.2 1.100-1 2-2 1.400L12 19.100l-4.700 2.600c-1 .6-2.200-.3-2-1.400l1-5.300-3.900-3.700c-.8-.8-.3-2.100 .8-2.300l5.300-.7 2.300-4.900c.2-.5 .700-.8 1.200-.8z"/></svg></div>
<div class="rt hi" style="left:485.7px;top:338.6px"><span>4</span><svg class="st" viewBox="0 0 24 24"><path d="M12 2.6c.5 0 1 .3 1.200 .8l2.300 4.900 5.300 .7c1.100 .2 1.600 1.500 .8 2.300l-3.900 3.700 1 5.300c.2 1.100-1 2-2 1.400L12 19.100l-4.700 2.600c-1 .6-2.200-.3-2-1.400l1-5.300-3.900-3.700c-.8-.8-.3-2.100 .8-2.300l5.300-.7 2.300-4.900c.2-.5 .700-.8 1.200-.8z"/></svg></div>
<div class="rt hi" style="left:660.2px;top:338.6px"><span>4</span><svg class="st" viewBox="0 0 24 24"><path d="M12 2.6c.5 0 1 .3 1.200 .8l2.300 4.900 5.300 .7c1.100 .2 1.600 1.500 .8 2.300l-3.900 3.700 1 5.300c.2 1.100-1 2-2 1.400L12 19.100l-4.700 2.600c-1 .6-2.200-.3-2-1.400l1-5.300-3.900-3.700c-.8-.8-.3-2.100 .8-2.300l5.300-.7 2.300-4.900c.2-.5 .700-.8 1.200-.8z"/></svg></div>
<div class="dash" style="left:852px;top:357px"></div>
<div class="rt md" style="left:1008.9px;top:338.6px"><span>3.5</span><svg class="st" viewBox="0 0 24 24"><path d="M12 2.6c.5 0 1 .3 1.200 .8l2.300 4.900 5.300 .7c1.100 .2 1.600 1.500 .8 2.300l-3.900 3.700 1 5.300c.2 1.100-1 2-2 1.400L12 19.100l-4.700 2.600c-1 .6-2.200-.3-2-1.400l1-5.300-3.900-3.700c-.8-.8-.3-2.100 .8-2.300l5.300-.7 2.300-4.900c.2-.5 .700-.8 1.200-.8z"/></svg></div>
<div class="rt md" style="left:1183.9px;top:338.6px"><span>3</span><svg class="st" viewBox="0 0 24 24"><path d="M12 2.6c.5 0 1 .3 1.200 .8l2.300 4.900 5.300 .7c1.100 .2 1.600 1.500 .8 2.300l-3.900 3.700 1 5.300c.2 1.100-1 2-2 1.400L12 19.100l-4.700 2.600c-1 .6-2.200-.3-2-1.400l1-5.300-3.900-3.700c-.8-.8-.3-2.100 .8-2.300l5.300-.7 2.300-4.900c.2-.5 .700-.8 1.200-.8z"/></svg></div>
<div class="dash" style="left:1378px;top:357px"></div>
<div class="score" style="top:347.7px">3.33</div>
</section>
<section class="row">
<div class="thumb" role="img" aria-label="Stone From The cover" style="top:400.9px"><svg viewBox="0 0 64 64" preserveAspectRatio="none"><defs><linearGradient id="t5g" x1="0" y1="48" x2="0" y2="560" gradientUnits="userSpaceOnUse"><stop offset="0" stop-color="#0a0a0c"/><stop offset=".25" stop-color="#0e0a0c"/><stop offset=".48" stop-color="#5a1612"/><stop offset=".72" stop-color="#d04624"/><stop offset="1" stop-color="#ee6a38"/></linearGradient><filter id="t5b"><feGaussianBlur stdDeviation="6"/></filter><filter id="t5n" x="0" y="0" width="100%" height="100%"><feTurbulence type="fractalNoise" baseFrequency="0.03" numOctaves="2" seed="7"/><feColorMatrix type="matrix" values="0 0 0 0 0  0 0 0 0 0  0 0 0 0 0  1.8 0 0 0 -0.75"/></filter></defs><g transform="scale(.08278) translate(-55,-48)"><rect x="40" y="30" width="810" height="820" fill="url(#t5g)"/><g filter="url(#t5b)"><path d="M40 170L90 200L150 205L215 245L230 300L100 260L40 300Z" fill="#e85a28"/><path d="M280 300L300 240L360 185L330 260Z" fill="#d85028"/><path d="M40 300L110 235L210 300L290 360L420 400L500 380L560 480L620 520L620 850L40 850Z" fill="#42606f"/><path d="M40 320L110 250L190 300L200 520L40 560Z" fill="#4c6c7c"/><path d="M560 500L640 510L700 495L780 515L830 500L850 850L560 850Z" fill="#0c0c10"/><path d="M780 500L800 380L850 330L850 600L800 600Z" fill="#42606f"/><path d="M600 560L700 525L800 560L840 640L800 700L700 770L520 750L600 660Z" fill="#a88a3a"/><path d="M790 380L830 370L835 470L800 440Z" fill="#c8a23a"/><path d="M40 590L130 600L110 660L240 710L280 800L200 800L100 700L40 660Z" fill="#a88a3a"/><path d="M180 480L230 475L210 510Z" fill="#b89238"/><path d="M285 330Q300 250 400 200Q440 140 500 160Q600 180 630 270Q650 400 610 560Q600 640 540 660L470 650Q560 600 570 470Q540 420 500 400Q460 330 400 380Q340 370 285 330Z" fill="#c6d2d6" opacity=".92"/><path d="M520 200L440 280L410 380L440 300Z" fill="#e0502a"/><path d="M640 290L680 250L700 225L690 255L650 300Z" fill="#d8dcdc"/><path d="M215 335L260 375L330 385L345 420L330 470L240 470L225 420Z" fill="#8ab0c6"/><path d="M240 470L340 460L420 420L520 450L560 560L500 640L380 620L300 560Z" fill="#5d8498"/><path d="M340 770Q380 660 440 620Q480 610 500 640Q440 660 400 720Q370 780 340 770Z" fill="#d0e0e8"/><path d="M450 760L620 740L640 800L470 810Z" fill="#7ab0c8"/></g><rect x="40" y="300" width="810" height="520" filter="url(#t5n)" fill="#0a1418" opacity=".5"/><circle cx="268" cy="405" r="9" fill="#f0f4f4"/><circle cx="318" cy="405" r="9" fill="#f0f4f4"/><path d="M40 30H850V95H40ZM40 790H850V850H40Z" fill="#0a0a0c"/><rect x="85" y="88" width="712" height="700" fill="none" stroke="#8a8a8a" stroke-width="3" opacity=".6"/></g></svg>
</div>
<div class="artist" style="top:399.5px;letter-spacing:-0.24px">Stone From The ...</div>
<div class="album" style="top:418.7px;letter-spacing:-0.06px">Bakeneko</div>
<div class="card" style="top:405.3px"><i class="sep" style="left:178.5px"></i><i class="sep" style="left:353.7px"></i><i class="sep" style="left:527.4px"></i><i class="sep" style="left:702.2px"></i><i class="sep" style="left:876.4px"></i><i class="sep" style="left:1052.1px"></i></div>
<div class="rt md" style="left:308.9px;top:418.0px"><span>3</span><svg class="st" viewBox="0 0 24 24"><path d="M12 2.6c.5 0 1 .3 1.200 .8l2.300 4.900 5.300 .7c1.100 .2 1.600 1.500 .8 2.300l-3.900 3.700 1 5.300c.2 1.100-1 2-2 1.400L12 19.100l-4.700 2.600c-1 .6-2.200-.3-2-1.400l1-5.300-3.900-3.700c-.8-.8-.3-2.100 .8-2.300l5.300-.7 2.300-4.900c.2-.5 .700-.8 1.200-.8z"/></svg></div>
<div class="dash" style="left:503px;top:436px"></div>
<div class="rt md" style="left:660.2px;top:418.0px"><span>3.5</span><svg class="st" viewBox="0 0 24 24"><path d="M12 2.6c.5 0 1 .3 1.200 .8l2.300 4.900 5.300 .7c1.100 .2 1.600 1.500 .8 2.300l-3.900 3.700 1 5.300c.2 1.100-1 2-2 1.400L12 19.100l-4.700 2.600c-1 .6-2.200-.3-2-1.400l1-5.300-3.900-3.700c-.8-.8-.3-2.100 .8-2.300l5.300-.7 2.300-4.900c.2-.5 .700-.8 1.200-.8z"/></svg></div>
<div class="dash" style="left:852px;top:436px"></div>
<div class="rt md" style="left:1008.9px;top:418.0px"><span>3.5</span><svg class="st" viewBox="0 0 24 24"><path d="M12 2.6c.5 0 1 .3 1.200 .8l2.300 4.900 5.300 .7c1.100 .2 1.600 1.500 .8 2.300l-3.900 3.700 1 5.300c.2 1.100-1 2-2 1.400L12 19.100l-4.700 2.600c-1 .6-2.200-.3-2-1.400l1-5.300-3.900-3.700c-.8-.8-.3-2.100 .8-2.300l5.300-.7 2.300-4.900c.2-.5 .700-.8 1.200-.8z"/></svg></div>
<div class="dash" style="left:1201px;top:436px"></div>
<div class="rt hi" style="left:1361.0px;top:418.0px"><span>4.5</span><svg class="st" viewBox="0 0 24 24"><path d="M12 2.6c.5 0 1 .3 1.200 .8l2.300 4.900 5.300 .7c1.100 .2 1.600 1.500 .8 2.300l-3.900 3.700 1 5.300c.2 1.100-1 2-2 1.400L12 19.100l-4.700 2.600c-1 .6-2.200-.3-2-1.400l1-5.300-3.900-3.700c-.8-.8-.3-2.100 .8-2.300l5.300-.7 2.300-4.900c.2-.5 .700-.8 1.200-.8z"/></svg></div>
<div class="score" style="top:427.1px">3.30</div>
</section>
<section class="row">
<div class="thumb" role="img" aria-label="Clamm cover" style="top:480.7px"><svg viewBox="0 0 64 64" preserveAspectRatio="none"><defs><linearGradient id="t6g" x1="75" y1="0" x2="810" y2="0" gradientUnits="userSpaceOnUse"><stop offset="0" stop-color="#98aa98"/><stop offset=".3" stop-color="#86a09a"/><stop offset=".5" stop-color="#72907e"/><stop offset=".62" stop-color="#41646a"/><stop offset="1" stop-color="#2e4c56"/></linearGradient><filter id="t6n" x="0" y="0" width="100%" height="100%"><feTurbulence type="fractalNoise" baseFrequency="0.022 0.006" numOctaves="2" seed="3"/><feColorMatrix type="matrix" values="0 0 0 0 0  0 0 0 0 0  0 0 0 0 0  3 0 0 0 -1.25"/></filter><filter id="t6o" x="0" y="0" width="100%" height="100%"><feTurbulence type="fractalNoise" baseFrequency="0.05" numOctaves="2" seed="13"/><feColorMatrix type="matrix" values="0 0 0 0 0  0 0 0 0 0  0 0 0 0 0  2.2 0 0 0 -1"/></filter><mask id="t6m"><text transform="translate(70,794) scale(0.735,3.86)" font-family="'Liberation Sans',sans-serif" font-weight="700" font-size="265" letter-spacing="-4" fill="#fff" stroke="#fff" stroke-width="11">CLAMM</text></mask></defs><g transform="scale(.08278) translate(-55,-45)"><rect x="40" y="30" width="810" height="820" fill="#060606"/><text transform="translate(70,794) scale(0.735,3.86)" font-family="'Liberation Sans',sans-serif" font-weight="700" font-size="265" letter-spacing="-4" fill="url(#t6g)" stroke="url(#t6g)" stroke-width="11">CLAMM</text><g mask="url(#t6m)"><rect x="40" y="30" width="810" height="820" filter="url(#t6n)" fill="#070909" opacity=".9"/><rect x="40" y="30" width="810" height="820" filter="url(#t6o)" fill="#0a0e0e" opacity=".6"/><path d="M75 520L300 640M330 400L460 250M460 520L620 380M480 640L640 500M200 700L330 760M560 700L640 760" stroke="#080808" stroke-width="12"/></g></g></svg>
</div>
<div class="artist" style="top:479.3px;letter-spacing:-0.05px">Clamm</div>
<div class="album" style="top:498.5px;letter-spacing:-0.06px">Serious Acts</div>
<div class="card" style="top:484.7px"><i class="sep" style="left:178.5px"></i><i class="sep" style="left:353.7px"></i><i class="sep" style="left:527.4px"></i><i class="sep" style="left:702.2px"></i><i class="sep" style="left:876.4px"></i><i class="sep" style="left:1052.1px"></i></div>
<div class="rt hi" style="left:308.9px;top:497.4px"><span>4</span><svg class="st" viewBox="0 0 24 24"><path d="M12 2.6c.5 0 1 .3 1.200 .8l2.300 4.900 5.300 .7c1.100 .2 1.600 1.500 .8 2.300l-3.900 3.700 1 5.300c.2 1.100-1 2-2 1.400L12 19.100l-4.700 2.600c-1 .6-2.200-.3-2-1.400l1-5.300-3.900-3.700c-.8-.8-.3-2.100 .8-2.300l5.300-.7 2.300-4.900c.2-.5 .700-.8 1.200-.8z"/></svg></div>
<div class="dash" style="left:503px;top:515px"></div>
<div class="rt md" style="left:660.2px;top:497.4px"><span>3</span><svg class="st" viewBox="0 0 24 24"><path d="M12 2.6c.5 0 1 .3 1.200 .8l2.300 4.900 5.300 .7c1.100 .2 1.600 1.500 .8 2.300l-3.900 3.700 1 5.300c.2 1.100-1 2-2 1.400L12 19.100l-4.700 2.600c-1 .6-2.200-.3-2-1.400l1-5.300-3.900-3.700c-.8-.8-.3-2.100 .8-2.300l5.300-.7 2.300-4.900c.2-.5 .700-.8 1.200-.8z"/></svg></div>
<div class="rt lo" style="left:834.4px;top:497.4px"><span>2.5</span><svg class="st" viewBox="0 0 24 24"><path d="M12 2.6c.5 0 1 .3 1.200 .8l2.300 4.900 5.300 .7c1.100 .2 1.600 1.500 .8 2.300l-3.900 3.700 1 5.300c.2 1.100-1 2-2 1.400L12 19.100l-4.700 2.600c-1 .6-2.200-.3-2-1.400l1-5.300-3.900-3.700c-.8-.8-.3-2.100 .8-2.300l5.300-.7 2.300-4.900c.2-.5 .700-.8 1.200-.8z"/></svg></div>
<div class="dash" style="left:1026px;top:515px"></div>
<div class="rt hi" style="left:1183.9px;top:497.4px"><span>4</span><svg class="st" viewBox="0 0 24 24"><path d="M12 2.6c.5 0 1 .3 1.200 .8l2.300 4.900 5.300 .7c1.100 .2 1.600 1.500 .8 2.300l-3.900 3.700 1 5.300c.2 1.100-1 2-2 1.400L12 19.100l-4.700 2.600c-1 .6-2.200-.3-2-1.400l1-5.300-3.900-3.700c-.8-.8-.3-2.100 .8-2.300l5.300-.7 2.300-4.900c.2-.5 .700-.8 1.200-.8z"/></svg></div>
<div class="rt md" style="left:1361.0px;top:497.4px"><span>3.5</span><svg class="st" viewBox="0 0 24 24"><path d="M12 2.6c.5 0 1 .3 1.200 .8l2.300 4.900 5.300 .7c1.100 .2 1.600 1.500 .8 2.300l-3.900 3.700 1 5.300c.2 1.100-1 2-2 1.400L12 19.100l-4.700 2.600c-1 .6-2.200-.3-2-1.400l1-5.300-3.900-3.700c-.8-.8-.3-2.100 .8-2.300l5.300-.7 2.300-4.900c.2-.5 .700-.8 1.200-.8z"/></svg></div>
<div class="score" style="top:506.5px">3.25</div>
</section>
<section class="row">
<div class="thumb" role="img" aria-label="Swans cover" style="top:560.5px"><svg viewBox="0 0 64 64" preserveAspectRatio="none"><defs><filter id="t7n" x="0" y="0" width="100%" height="100%"><feTurbulence type="fractalNoise" baseFrequency="0.6" numOctaves="2" seed="5"/><feColorMatrix type="matrix" values="0 0 0 0 .25  0 0 0 0 .15  0 0 0 0 .1  .9 0 0 0 -0.35"/></filter></defs><rect width="64" height="64" fill="#d7b28c"/><circle cx="31.8" cy="31.6" r="17.9" fill="#1a110f"/><circle cx="31.8" cy="31.6" r="17.5" filter="url(#t7n)" opacity=".6"/></svg>
</div>
<div class="artist" style="top:559.1px;letter-spacing:-0.12px">Swans</div>
<div class="album" style="top:578.3px;letter-spacing:-0.11px">Birthing</div>
<div class="card" style="top:564.2px"><i class="sep" style="left:178.5px"></i><i class="sep" style="left:353.7px"></i><i class="sep" style="left:527.4px"></i><i class="sep" style="left:702.2px"></i><i class="sep" style="left:876.4px"></i><i class="sep" style="left:1052.1px"></i></div>
<div class="dash" style="left:326px;top:595px"></div>
<div class="dash" style="left:503px;top:595px"></div>
<div class="rt md" style="left:660.2px;top:576.9px"><span>3.5</span><svg class="st" viewBox="0 0 24 24"><path d="M12 2.6c.5 0 1 .3 1.200 .8l2.300 4.900 5.300 .7c1.100 .2 1.600 1.500 .8 2.300l-3.900 3.700 1 5.300c.2 1.100-1 2-2 1.400L12 19.100l-4.700 2.600c-1 .6-2.200-.3-2-1.400l1-5.300-3.900-3.700c-.8-.8-.3-2.100 .8-2.300l5.300-.7 2.300-4.900c.2-.5 .700-.8 1.200-.8z"/></svg></div>
<div class="rt md" style="left:834.4px;top:576.9px"><span>3.5</span><svg class="st" viewBox="0 0 24 24"><path d="M12 2.6c.5 0 1 .3 1.200 .8l2.300 4.900 5.300 .7c1.100 .2 1.600 1.500 .8 2.300l-3.900 3.700 1 5.300c.2 1.100-1 2-2 1.400L12 19.100l-4.700 2.600c-1 .6-2.200-.3-2-1.400l1-5.300-3.900-3.700c-.8-.8-.3-2.100 .8-2.300l5.300-.7 2.300-4.900c.2-.5 .700-.8 1.200-.8z"/></svg></div>
<div class="rt md" style="left:1008.9px;top:576.9px"><span>3.5</span><svg class="st" viewBox="0 0 24 24"><path d="M12 2.6c.5 0 1 .3 1.200 .8l2.300 4.900 5.300 .7c1.100 .2 1.600 1.500 .8 2.300l-3.900 3.700 1 5.300c.2 1.100-1 2-2 1.400L12 19.100l-4.700 2.600c-1 .6-2.200-.3-2-1.400l1-5.300-3.900-3.700c-.8-.8-.3-2.100 .8-2.300l5.300-.7 2.300-4.900c.2-.5 .700-.8 1.200-.8z"/></svg></div>
<div class="dash" style="left:1201px;top:595px"></div>
<div class="rt md" style="left:1361.0px;top:576.9px"><span>3.5</span><svg class="st" viewBox="0 0 24 24"><path d="M12 2.6c.5 0 1 .3 1.200 .8l2.300 4.900 5.300 .7c1.100 .2 1.600 1.500 .8 2.300l-3.900 3.700 1 5.300c.2 1.100-1 2-2 1.400L12 19.100l-4.700 2.600c-1 .6-2.200-.3-2-1.400l1-5.300-3.900-3.700c-.8-.8-.3-2.100 .8-2.300l5.300-.7 2.300-4.900c.2-.5 .700-.8 1.200-.8z"/></svg></div>
<div class="score" style="top:586.0px">3.20</div>
</section>
<section class="row">
<div class="thumb" role="img" aria-label="Civic cover" style="top:640.2px"><svg viewBox="0 0 64 64" preserveAspectRatio="none"><defs><filter id="t8b"><feGaussianBlur stdDeviation=".3"/></filter><linearGradient id="t8l" x1="26" y1="0" x2="38" y2="0" gradientUnits="userSpaceOnUse"><stop offset="0" stop-color="#1a1a1a"/><stop offset=".28" stop-color="#555"/><stop offset=".45" stop-color="#d8d8d8"/><stop offset=".6" stop-color="#2a2a2a"/><stop offset="1" stop-color="#0c0c0c"/></linearGradient></defs><rect width="64" height="64" fill="#cfcfcf"/><g filter="url(#t8b)" fill="none" stroke-linecap="butt"><path id="t8c" d="M47.5 26.200V22.050A14.750 14.750 0 0 0 18 22.050V41.250A14.750 14.750 0 0 0 47.500 41.250V38.300" stroke="#161616" stroke-width="9.8"/><path d="M47.5 26.200V22.050A14.750 14.750 0 0 0 18 22.050V41.250A14.750 14.750 0 0 0 47.500 41.250V38.300" stroke="#dedede" stroke-width="6.6"/><path d="M47.5 26.200V22.050A14.750 14.750 0 0 0 18 22.050V41.250A14.750 14.750 0 0 0 47.500 41.250V38.300" stroke="#161616" stroke-width="3.6" transform="translate(32.75 31.65) scale(.965 .975) translate(-32.75 -31.65)"/><path d="M47.5 26.200V22.050A14.750 14.750 0 0 0 18 22.050V41.250A14.750 14.750 0 0 0 47.500 41.250V38.300" stroke="#b8b8b8" stroke-width=".9" transform="translate(32.75 31.65) scale(.94 .955) translate(-32.75 -31.65)"/></g><path d="M26.800 -1H37.800L37.200 17Q36.500 21.800 32.300 21.800Q28 21.800 27.400 17Z" fill="url(#t8l)"/><path d="M31 0L32.400 9L34 0Z" fill="#d4d4d4"/><ellipse cx="32.3" cy="19.600" rx="4.500" ry="2.500" fill="#4a4a4a"/><path d="M27 65H37.800L37.400 47Q36.800 42 32.300 42Q27.800 42 27.300 47Z" fill="url(#t8l)"/><ellipse cx="32.3" cy="44.500" rx="4.300" ry="2.500" fill="#6a6a6a"/><path d="M31 65L32.300 50L33.800 65Z" fill="#cfcfcf"/><path d="M46.500 33.500L56.500 42M55.500 31.500L49.500 43" stroke="#3a3a3a" stroke-width=".45"/><circle cx="51.800" cy="38" r="1.150" fill="#fff"/></svg>
</div>
<div class="artist" style="top:638.8px;letter-spacing:-0.12px">Civic</div>
<div class="album" style="top:658.0px;letter-spacing:-0.10px">Chrome Dipped</div>
<div class="card" style="top:643.6px"><i class="sep" style="left:178.5px"></i><i class="sep" style="left:353.7px"></i><i class="sep" style="left:527.4px"></i><i class="sep" style="left:702.2px"></i><i class="sep" style="left:876.4px"></i><i class="sep" style="left:1052.1px"></i></div>
<div class="rt md" style="left:308.9px;top:656.3px"><span>3.5</span><svg class="st" viewBox="0 0 24 24"><path d="M12 2.6c.5 0 1 .3 1.200 .8l2.300 4.900 5.300 .7c1.100 .2 1.600 1.500 .8 2.300l-3.900 3.700 1 5.300c.2 1.100-1 2-2 1.400L12 19.100l-4.700 2.600c-1 .6-2.200-.3-2-1.400l1-5.300-3.900-3.700c-.8-.8-.3-2.100 .8-2.300l5.300-.7 2.300-4.900c.2-.5 .700-.8 1.200-.8z"/></svg></div>
<div class="dash" style="left:503px;top:674px"></div>
<div class="rt hi" style="left:660.2px;top:656.3px"><span>4</span><svg class="st" viewBox="0 0 24 24"><path d="M12 2.6c.5 0 1 .3 1.200 .8l2.300 4.900 5.300 .7c1.100 .2 1.600 1.500 .8 2.300l-3.900 3.700 1 5.300c.2 1.100-1 2-2 1.400L12 19.100l-4.700 2.600c-1 .6-2.200-.3-2-1.400l1-5.300-3.900-3.700c-.8-.8-.3-2.100 .8-2.300l5.300-.7 2.300-4.900c.2-.5 .700-.8 1.200-.8z"/></svg></div>
<div class="rt md" style="left:834.4px;top:656.3px"><span>3</span><svg class="st" viewBox="0 0 24 24"><path d="M12 2.6c.5 0 1 .3 1.200 .8l2.300 4.900 5.300 .7c1.100 .2 1.600 1.500 .8 2.300l-3.900 3.700 1 5.300c.2 1.100-1 2-2 1.400L12 19.100l-4.700 2.600c-1 .6-2.200-.3-2-1.400l1-5.300-3.900-3.700c-.8-.8-.3-2.100 .8-2.300l5.300-.7 2.300-4.900c.2-.5 .700-.8 1.200-.8z"/></svg></div>
<div class="dash" style="left:1026px;top:674px"></div>
<div class="dash" style="left:1201px;top:674px"></div>
<div class="rt md" style="left:1361.0px;top:656.3px"><span>3.5</span><svg class="st" viewBox="0 0 24 24"><path d="M12 2.6c.5 0 1 .3 1.200 .8l2.300 4.900 5.300 .7c1.100 .2 1.600 1.500 .8 2.300l-3.900 3.700 1 5.300c.2 1.100-1 2-2 1.400L12 19.100l-4.700 2.600c-1 .6-2.200-.3-2-1.400l1-5.300-3.900-3.700c-.8-.8-.3-2.100 .8-2.300l5.300-.7 2.300-4.900c.2-.5 .700-.8 1.200-.8z"/></svg></div>
<div class="score" style="top:665.4px">3.20</div>
</section>
<section class="row">
<div class="thumb" role="img" aria-label="Planning For Burial cover" style="top:720.0px"><svg viewBox="0 0 64 64" preserveAspectRatio="none"><defs><linearGradient id="t9s" x1="0" y1="48" x2="0" y2="470" gradientUnits="userSpaceOnUse"><stop offset="0" stop-color="#ebebe6"/><stop offset=".35" stop-color="#dcdcdc"/><stop offset=".75" stop-color="#c2c4ca"/><stop offset="1" stop-color="#b4b8c2"/></linearGradient><linearGradient id="t9r" x1="400" y1="0" x2="850" y2="0" gradientUnits="userSpaceOnUse"><stop offset="0" stop-color="#f2f5fb" stop-opacity="0"/><stop offset="1" stop-color="#f2f5fb" stop-opacity=".9"/></linearGradient><linearGradient id="t9m" x1="0" y1="48" x2="0" y2="430" gradientUnits="userSpaceOnUse"><stop offset="0" stop-color="#fff"/><stop offset="1" stop-color="#000"/></linearGradient><mask id="t9k"><rect x="40" y="30" width="810" height="450" fill="url(#t9m)"/></mask><filter id="t9b"><feGaussianBlur stdDeviation="7"/></filter><filter id="t9n" x="0" y="0" width="100%" height="100%"><feTurbulence type="fractalNoise" baseFrequency="0.045" numOctaves="2" seed="9"/><feColorMatrix type="matrix" values="0 0 0 0 .35  0 0 0 0 .25  0 0 0 0 .12  1.6 0 0 0 -0.7"/></filter></defs><g transform="scale(.08278) translate(-55,-48.5)"><rect x="40" y="30" width="810" height="450" fill="url(#t9s)"/><rect x="40" y="30" width="810" height="450" fill="url(#t9r)" mask="url(#t9k)"/><g filter="url(#t9b)"><path d="M40 445L250 440L420 455L640 470L700 440L850 400L850 850L40 850Z" fill="#98987a"/><path d="M40 440L110 450L200 470L40 540Z" fill="#7a8456"/><path d="M250 420L330 440L420 430L560 440L580 470L250 470Z" fill="#7c8258"/><path d="M640 460Q650 390 730 365Q810 370 822 420L760 440L700 470Z" fill="#6e5848"/><path d="M700 470L820 420L850 420L850 620L760 560Z" fill="#848c60"/><path d="M150 580L250 540L420 560L560 600L500 640L200 620Z" fill="#6a7048"/><path d="M40 640L850 620L850 850L40 850Z" fill="#9a967c"/><path d="M200 590L350 480L392 500L230 612Z" fill="#d8c8b8"/><path d="M295 600L440 480L480 500L560 585L540 612L450 540L320 625Z" fill="#d6c4b4"/><path d="M345 465L385 405M395 470L428 410M455 470L505 405M490 480L540 410M545 545L585 505M585 575L640 520" stroke="#6a4a38" stroke-width="16" fill="none"/></g><rect x="40" y="470" width="810" height="380" filter="url(#t9n)" opacity=".45"/></g></svg>
</div>
<div class="artist" style="top:718.6px;letter-spacing:-0.25px">Planning For Burial</div>
<div class="album" style="top:737.8px;letter-spacing:-0.14px">It's Closeness, It'...</div>
<div class="card" style="top:723.0px"><i class="sep" style="left:178.5px"></i><i class="sep" style="left:353.7px"></i><i class="sep" style="left:527.4px"></i><i class="sep" style="left:702.2px"></i><i class="sep" style="left:876.4px"></i><i class="sep" style="left:1052.1px"></i></div>
<div class="rt lo" style="left:308.9px;top:735.7px"><span>2.5</span><svg class="st" viewBox="0 0 24 24"><path d="M12 2.6c.5 0 1 .3 1.200 .8l2.300 4.900 5.300 .7c1.100 .2 1.600 1.500 .8 2.300l-3.900 3.700 1 5.300c.2 1.100-1 2-2 1.400L12 19.100l-4.700 2.600c-1 .6-2.200-.3-2-1.400l1-5.300-3.900-3.700c-.8-.8-.3-2.100 .8-2.300l5.300-.7 2.300-4.900c.2-.5 .700-.8 1.200-.8z"/></svg></div>
<div class="dash" style="left:503px;top:754px"></div>
<div class="rt md" style="left:660.2px;top:735.7px"><span>3.5</span><svg class="st" viewBox="0 0 24 24"><path d="M12 2.6c.5 0 1 .3 1.200 .8l2.300 4.900 5.300 .7c1.100 .2 1.600 1.500 .8 2.300l-3.900 3.700 1 5.300c.2 1.100-1 2-2 1.400L12 19.100l-4.700 2.600c-1 .6-2.200-.3-2-1.400l1-5.300-3.900-3.700c-.8-.8-.3-2.100 .8-2.300l5.300-.7 2.300-4.900c.2-.5 .700-.8 1.200-.8z"/></svg></div>
<div class="rt md" style="left:834.4px;top:735.7px"><span>3.5</span><svg class="st" viewBox="0 0 24 24"><path d="M12 2.6c.5 0 1 .3 1.200 .8l2.300 4.900 5.300 .7c1.100 .2 1.600 1.500 .8 2.300l-3.900 3.700 1 5.300c.2 1.100-1 2-2 1.400L12 19.100l-4.700 2.600c-1 .6-2.200-.3-2-1.400l1-5.300-3.900-3.700c-.8-.8-.3-2.100 .8-2.300l5.300-.7 2.300-4.900c.2-.5 .700-.8 1.200-.8z"/></svg></div>
<div class="dash" style="left:1026px;top:754px"></div>
<div class="dash" style="left:1201px;top:754px"></div>
<div class="rt hi" style="left:1361.0px;top:735.7px"><span>4</span><svg class="st" viewBox="0 0 24 24"><path d="M12 2.6c.5 0 1 .3 1.200 .8l2.300 4.900 5.300 .7c1.100 .2 1.600 1.500 .8 2.300l-3.900 3.700 1 5.300c.2 1.100-1 2-2 1.400L12 19.100l-4.700 2.600c-1 .6-2.200-.3-2-1.400l1-5.300-3.900-3.700c-.8-.8-.3-2.100 .8-2.300l5.300-.7 2.300-4.900c.2-.5 .700-.8 1.200-.8z"/></svg></div>
<div class="score" style="top:744.8px">3.10</div>
</section>
<section class="row">
<div class="thumb" role="img" aria-label="Caroline cover" style="top:799.7px"><svg viewBox="0 0 64 64" preserveAspectRatio="none"><defs><linearGradient id="t10s" x1="175" y1="160" x2="830" y2="400" gradientUnits="userSpaceOnUse"><stop offset="0" stop-color="#1492de"/><stop offset=".5" stop-color="#2aa0e6"/><stop offset="1" stop-color="#62bdf0"/></linearGradient><filter id="t10b"><feGaussianBlur stdDeviation="5"/></filter></defs><g transform="scale(.08278) translate(-55,-45)"><rect x="40" y="30" width="810" height="820" fill="#0d0d0e"/><g filter="url(#t10b)"><path d="M178 200Q180 160 230 160L850 218L850 430L185 420Z" fill="url(#t10s)"/><path d="M40 185L85 195L90 330L40 325Z" fill="#2a9ae0"/><path d="M40 325L92 330L95 400L40 400Z" fill="#c0aa80"/><path d="M185 415L200 350L300 290L430 218L520 280L610 282L700 360L830 430L830 490L650 490L640 425Z" fill="#b09a74"/><path d="M430 218L520 280L610 282L700 360L640 370L560 420L540 340L470 300L400 290Z" fill="#2e2a28"/><path d="M300 290L330 380L280 410L200 410Z" fill="#d6c69e"/><path d="M700 360L830 430L830 490L720 480L690 420Z" fill="#a88a68"/><path d="M720 400L780 430L800 470L740 460Z" fill="#5a4a3a"/><path d="M560 300L600 380L640 400L620 330Z" fill="#d0c0a0"/><path d="M190 425L645 430L650 575L190 575Z" fill="#3e3e1a"/><path d="M190 470L460 470L460 575L190 575Z" fill="#17173a"/><path d="M660 495L830 495L830 640L660 640Z" fill="#141418"/><path d="M700 500L700 640M790 500L790 640" stroke="#3a4a6a" stroke-width="8"/><path d="M200 600L620 590L620 640L200 650Z" fill="#22221c"/><path d="M420 710L830 700L830 745L430 750Z" fill="#1a2a4c"/><path d="M325 680Q350 580 400 540Q450 470 540 455L545 480Q500 500 470 560L530 540L535 570Q470 620 440 660Q410 730 380 740Q340 730 325 680Z" fill="#8c6c54"/><path d="M470 520L540 480L550 520L500 560Z" fill="#3a3040"/></g><path d="M40 30H850V215L230 160Q180 160 185 210L200 760L90 760L80 190L40 185Z" fill="#0d0d0e"/></g></svg>
</div>
<div class="artist" style="top:798.3px;letter-spacing:-0.08px">Caroline</div>
<div class="album" style="top:817.5px;letter-spacing:-0.05px">Caroline 2</div>
<div class="card" style="top:802.4px"><i class="sep" style="left:178.5px"></i><i class="sep" style="left:353.7px"></i><i class="sep" style="left:527.4px"></i><i class="sep" style="left:702.2px"></i><i class="sep" style="left:876.4px"></i><i class="sep" style="left:1052.1px"></i></div>
<div class="rt lo" style="left:308.9px;top:815.1px"><span>1.5</span><svg class="st" viewBox="0 0 24 24"><path d="M12 2.6c.5 0 1 .3 1.200 .8l2.300 4.900 5.300 .7c1.100 .2 1.600 1.500 .8 2.300l-3.900 3.700 1 5.300c.2 1.100-1 2-2 1.400L12 19.100l-4.700 2.600c-1 .6-2.200-.3-2-1.400l1-5.300-3.900-3.700c-.8-.8-.3-2.100 .8-2.300l5.300-.7 2.300-4.900c.2-.5 .700-.8 1.200-.8z"/></svg></div>
<div class="rt lo" style="left:485.7px;top:815.1px"><span>1</span><svg class="st" viewBox="0 0 24 24"><path d="M12 2.6c.5 0 1 .3 1.200 .8l2.300 4.900 5.300 .7c1.100 .2 1.600 1.500 .8 2.300l-3.900 3.700 1 5.300c.2 1.100-1 2-2 1.400L12 19.100l-4.700 2.600c-1 .6-2.200-.3-2-1.400l1-5.300-3.900-3.700c-.8-.8-.3-2.100 .8-2.300l5.300-.7 2.300-4.900c.2-.5 .700-.8 1.200-.8z"/></svg></div>
<div class="rt md" style="left:660.2px;top:815.1px"><span>3.5</span><svg class="st" viewBox="0 0 24 24"><path d="M12 2.6c.5 0 1 .3 1.200 .8l2.300 4.900 5.300 .7c1.100 .2 1.600 1.500 .8 2.300l-3.900 3.700 1 5.300c.2 1.100-1 2-2 1.400L12 19.100l-4.700 2.600c-1 .6-2.200-.3-2-1.400l1-5.300-3.900-3.700c-.8-.8-.3-2.100 .8-2.300l5.300-.7 2.300-4.900c.2-.5 .700-.8 1.200-.8z"/></svg></div>
<div class="rt hi" style="left:834.4px;top:815.1px"><span>4</span><svg class="st" viewBox="0 0 24 24"><path d="M12 2.6c.5 0 1 .3 1.200 .8l2.300 4.900 5.300 .7c1.100 .2 1.600 1.500 .8 2.300l-3.900 3.700 1 5.300c.2 1.100-1 2-2 1.400L12 19.100l-4.700 2.600c-1 .6-2.200-.3-2-1.400l1-5.300-3.900-3.700c-.8-.8-.3-2.100 .8-2.300l5.300-.7 2.300-4.900c.2-.5 .700-.8 1.200-.8z"/></svg></div>
<div class="dash" style="left:1026px;top:833px"></div>
<div class="rt md" style="left:1183.9px;top:815.1px"><span>3</span><svg class="st" viewBox="0 0 24 24"><path d="M12 2.6c.5 0 1 .3 1.200 .8l2.300 4.900 5.300 .7c1.100 .2 1.600 1.500 .8 2.300l-3.900 3.700 1 5.300c.2 1.100-1 2-2 1.400L12 19.100l-4.700 2.600c-1 .6-2.200-.3-2-1.400l1-5.300-3.900-3.700c-.8-.8-.3-2.100 .8-2.300l5.300-.7 2.300-4.900c.2-.5 .700-.8 1.200-.8z"/></svg></div>
<div class="rt lo" style="left:1361.0px;top:815.1px"><span>1.5</span><svg class="st" viewBox="0 0 24 24"><path d="M12 2.6c.5 0 1 .3 1.200 .8l2.300 4.900 5.300 .7c1.100 .2 1.600 1.500 .8 2.300l-3.900 3.700 1 5.300c.2 1.100-1 2-2 1.400L12 19.100l-4.700 2.600c-1 .6-2.200-.3-2-1.400l1-5.300-3.900-3.700c-.8-.8-.3-2.100 .8-2.300l5.300-.7 2.300-4.900c.2-.5 .700-.8 1.200-.8z"/></svg></div>
<div class="score" style="top:824.2px">2.50</div>
</section>
</main>
</body>
</html>
